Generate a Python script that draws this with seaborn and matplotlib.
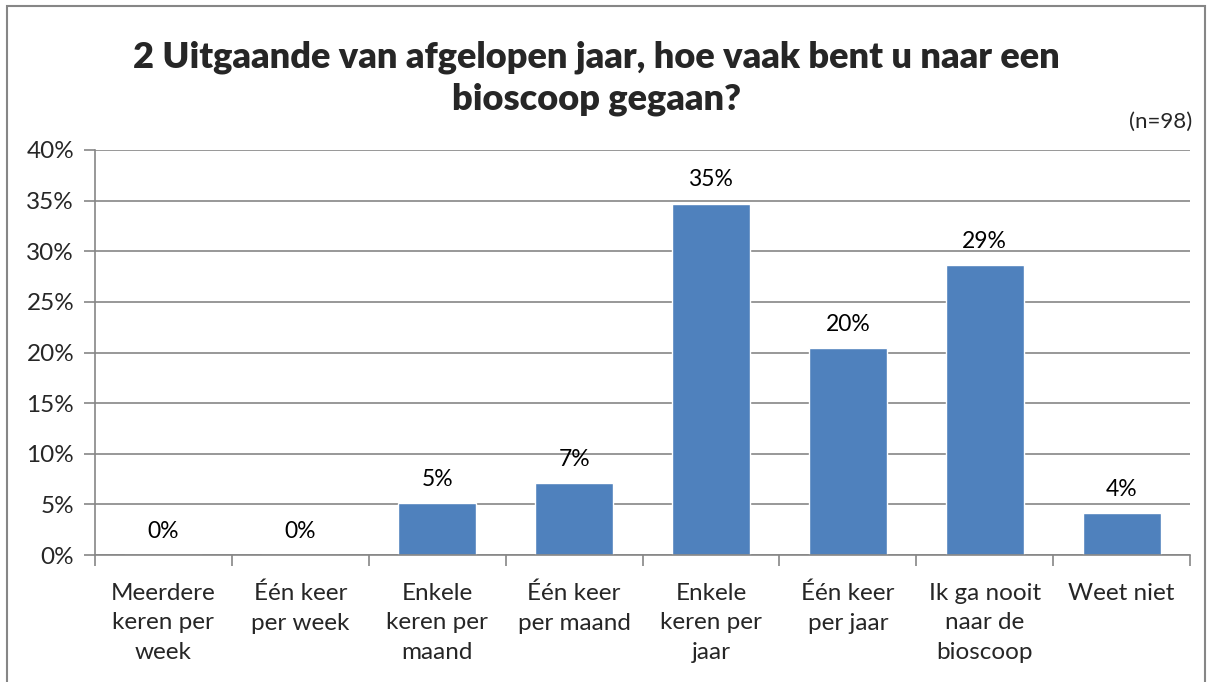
import matplotlib
matplotlib.use("Agg")
import matplotlib.pyplot as plt
import seaborn as sns
import pandas as pd
from matplotlib.patches import Rectangle

categories = ["Meerdere\nkeren per\nweek", "Één keer\nper week", "Enkele\nkeren per\nmaand",
              "Één keer\nper maand", "Enkele\nkeren per\njaar", "Één keer\nper jaar",
              "Ik ga nooit\nnaar de\nbioscoop", "Weet niet"]
values = [0.0, 0.0, 5.1, 7.1, 34.7, 20.4, 28.6, 4.1]
labels = ["0%", "0%", "5%", "7%", "35%", "20%", "29%", "4%"]
yticks = [0, 5, 10, 15, 20, 25, 30, 35, 40]
title = "2 Uitgaande van afgelopen jaar, hoe vaak bent u naar een\nbioscoop gegaan?"
note = "(n=98)"

sns.set_theme(style="white")
plt.rcParams['font.family'] = ['Lato', 'DejaVu Sans']

df = pd.DataFrame({"cat": categories, "val": values})

fig = plt.figure(figsize=(12.13, 6.82), dpi=100)
ax = fig.add_axes([95/1213, 1-555/682, 1095/1213, 405/682])
sns.barplot(data=df, x="cat", y="val", color="#4F81BD", saturation=1, width=0.57, ax=ax)

ax.set_ylim(0, 40)
ax.set_xlim(-0.5, len(categories) - 0.5)
ax.set_yticks(yticks)
ax.set_yticklabels([f"{t}%" for t in yticks], fontsize=17.5)
ax.yaxis.grid(True, color="#868686", linewidth=1.2)
ax.set_axisbelow(True)
ax.set_xlabel("")
ax.set_ylabel("")
for s in ["top", "right"]:
    ax.spines[s].set_visible(False)
for s in ["left", "bottom"]:
    ax.spines[s].set_color("#868686")
    ax.spines[s].set_linewidth(1.2)

ax.set_xticks([i + 0.5 for i in range(-1, len(categories))], minor=True)
ax.tick_params(axis="x", which="minor", length=8, color="#868686", width=1.2, bottom=True)
ax.tick_params(axis="x", which="major", length=0, labelsize=17.5, pad=20)
ax.tick_params(axis="y", length=8, color="#868686", width=1.2, left=True, pad=7)
ax.set_xticks(range(len(categories)))
ax.set_xticklabels(categories, fontsize=17.5, linespacing=1.5)

for i, (v, lab) in enumerate(zip(values, labels)):
    ax.text(i, v + 1.3, lab, ha="center", va="bottom", fontsize=16.5, color="black")

fig.text(0.492, 1 - 78/682, title, ha="center", va="center", fontsize=26, fontweight="heavy",
         linespacing=1.3)
fig.text(1192/1213, 1 - 122/682, note, ha="right", va="center", fontsize=16)

fig.patches.append(Rectangle((7/1213, -0.01), (1205 - 7)/1213, 1 - 6/682 + 0.01,
                             transform=fig.transFigure, fill=False, edgecolor="#868686",
                             linewidth=1.5))

fig.savefig("out.png", dpi=100)
